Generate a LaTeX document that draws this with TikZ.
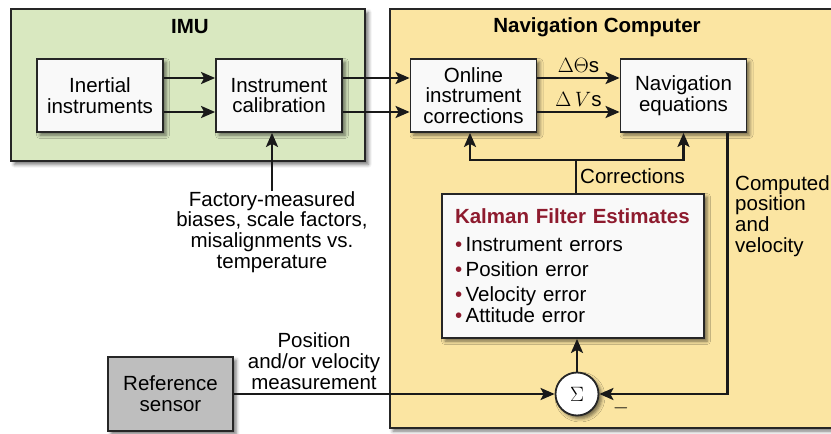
\documentclass[tikz,border=0pt]{standalone}
\usepackage{fontspec}
\setmainfont{Liberation Sans}
\usetikzlibrary{arrows.meta,shadows.blur}
\definecolor{imugreen}{RGB}{217,232,192}
\definecolor{navyellow}{RGB}{251,229,162}
\definecolor{boxwhite}{RGB}{249,249,249}
\definecolor{refgray}{RGB}{190,190,190}
\definecolor{kalred}{RGB}{142,27,46}
\begin{document}
\begin{tikzpicture}[x=1pt,y=-1pt]
\tikzstyle{every node}+=[inner sep=0pt, font=\fontsize{20.5}{20.7}\selectfont]
\tikzstyle{frame}=[draw=black!85, line width=1.8pt, blur shadow={shadow xshift=3pt, shadow yshift=-3pt, shadow blur radius=3.5pt, shadow opacity=55}]
\tikzstyle{block}=[frame, fill=boxwhite, minimum width=126pt, minimum height=73pt, align=center]
\tikzstyle{title}=[font=\fontsize{20.5}{20.7}\selectfont\bfseries]
\tikzstyle{wire}=[line width=2.4pt, draw=black!90]
\tikzstyle{arr}=[wire, -{Stealth[length=14pt,width=12pt,inset=3pt]}]
\useasboundingbox (0,0) rectangle (831,434);
\node[frame, fill=imugreen, minimum width=354pt, minimum height=152pt] (imu) at (188.3,85.3) {};
\node[frame, fill=navyellow, minimum width=452pt, minimum height=419pt] (nav) at (616,218.5) {};
\node[title] (imutitle) at (190,27) {IMU};
\node[title] (navtitle) at (597,27) {Navigation Computer};
\node[block] (inert) at (100,95.5) {Inertial\\instruments};
\node[block] (calib) at (279,95.5) {Instrument\\calibration};
\node[block] (online) at (473.5,95.5) {Online\\instrument\\corrections};
\node[block] (naveq) at (683.5,95.5) {Navigation\\equations};
\node[block, minimum width=262pt, minimum height=144pt, align=left, text width=236pt] (kalman) at (573,266)
  {\textcolor{kalred}{\bfseries Kalman Filter Estimates}\\[3pt]
   \fontsize{20.5}{25}\selectfont
   \textcolor{kalred}{\textbullet}\,Instrument errors\\
   \textcolor{kalred}{\textbullet}\,Position error\\
   \textcolor{kalred}{\textbullet}\,Velocity error\\
   \textcolor{kalred}{\textbullet}\,Attitude error};
\node[block, fill=refgray, minimum width=125pt, minimum height=74pt] (ref) at (170.5,394) {Reference\\sensor};
\node[frame, circle, fill=white, minimum size=43pt] (sigma) at (577,394) {$\Sigma$};
\draw[arr] ([yshift=17.5pt]inert.east) -- ([yshift=17.5pt]calib.west);
\draw[arr] ([yshift=-16.5pt]inert.east) -- ([yshift=-16.5pt]calib.west);
\draw[arr] ([yshift=17.5pt]calib.east) -- ([yshift=17.5pt]online.west);
\draw[arr] ([yshift=-16.5pt]calib.east) -- ([yshift=-16.5pt]online.west);
\draw[arr] ([yshift=17.5pt]online.east) -- node[above=4pt] (dtheta) {$\Delta\Theta$s} ([yshift=17.5pt]naveq.west);
\draw[arr] ([yshift=-16.5pt]online.east) -- node[above=4pt] (dv) {$\Delta\,V$s} ([yshift=-16.5pt]naveq.west);
\coordinate (split) at (576,160);
\draw[wire] (kalman.north -| split) -- (split);
\draw[arr] (split) -| ([xshift=-3.5pt]online.south);
\draw[arr] (split) -| (naveq.south);
\node[anchor=west] (corr) at (580,176) {Corrections};
\draw[arr] ([xshift=44pt]naveq.south) |- (sigma.east);
\node (minus) at (621,408) {$-$};
\node[anchor=north west, align=left] (computed) at (735,175) {Computed\\position\\and\\velocity};
\draw[arr] (sigma.north) -- (sigma.north |- kalman.south);
\draw[arr] (ref.east) -- (sigma.west);
\node[align=center] (meas) at (314,361) {Position\\and/or velocity\\measurement};
\node[align=center] (factory) at (272,232) {Factory-measured\\biases, scale factors,\\misalignments vs.\\temperature};
\draw[arr] (factory.north) -- (factory.north |- calib.south);
\end{tikzpicture}
\end{document}
